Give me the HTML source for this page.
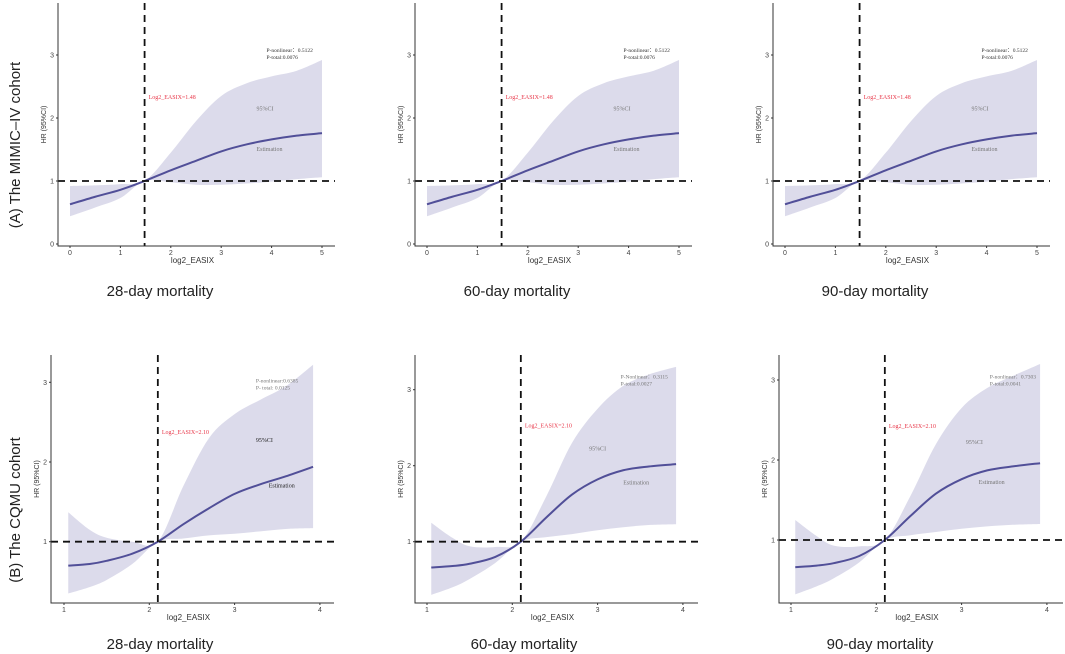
<!DOCTYPE html>
<html><head><meta charset="utf-8"><style>
html,body{margin:0;padding:0;background:#fff;}
svg{display:block;font-family:"Liberation Sans",sans-serif;}
</style></head><body>
<svg id="chart" width="1065" height="654" viewBox="0 0 1065 654" xmlns="http://www.w3.org/2000/svg"></svg>
<script>
// ---- data: top row (MIMIC-IV) ----
const topX     = [0, 0.5, 1, 1.48, 2, 2.5, 3, 3.5, 4, 4.5, 5];
const topEst   = [0.63, 0.75, 0.86, 1.0, 1.17, 1.32, 1.47, 1.58, 1.66, 1.72, 1.76];
const topUpper = [0.92, 0.93, 0.95, 1.0, 1.45, 1.95, 2.35, 2.55, 2.66, 2.75, 2.92];
const topLower = [0.44, 0.58, 0.73, 1.0, 0.98, 0.94, 0.94, 0.96, 0.99, 1.03, 1.06];
const topXTicks = [0, 1, 2, 3, 4, 5];
const topYTicks = [0, 1, 2, 3];
const topCut = 1.48;
// ---- data: bottom row (CQMU) ----
const botX       = [1.05, 1.3, 1.5, 1.8, 2.1, 2.4, 2.7, 3.0, 3.3, 3.6, 3.92];
const b28Est     = [0.70, 0.72, 0.76, 0.85, 1.0, 1.22, 1.42, 1.60, 1.72, 1.82, 1.94];
const b28Upper   = [1.37, 1.15, 1.05, 1.0, 1.0, 1.70, 2.30, 2.60, 2.78, 2.95, 3.22];
const b28Lower   = [0.35, 0.43, 0.52, 0.72, 1.0, 1.04, 1.08, 1.10, 1.13, 1.16, 1.17];
const b60Est     = [0.66, 0.68, 0.71, 0.80, 1.0, 1.32, 1.62, 1.82, 1.94, 1.99, 2.02];
const b60Upper   = [1.25, 1.05, 0.94, 0.93, 1.0, 1.60, 2.30, 2.75, 3.05, 3.20, 3.30];
const b60Lower   = [0.30, 0.40, 0.51, 0.72, 1.0, 1.06, 1.10, 1.15, 1.19, 1.22, 1.23];
const b90Est     = [0.66, 0.68, 0.71, 0.80, 1.0, 1.30, 1.58, 1.76, 1.87, 1.92, 1.96];
const b90Upper   = [1.25, 1.05, 0.93, 0.92, 1.0, 1.55, 2.20, 2.65, 2.90, 3.05, 3.20];
const b90Lower   = [0.32, 0.42, 0.52, 0.72, 1.0, 1.06, 1.10, 1.14, 1.17, 1.19, 1.20];
const botXTicks = [1, 2, 3, 4];
const botYTicks = [1, 2, 3];
const botCut = 2.10;

const NS = "http://www.w3.org/2000/svg";
const svg = document.getElementById('chart');
function mk(tag, attrs, parent){const e=document.createElementNS(NS,tag);for(const k in attrs)e.setAttribute(k,attrs[k]);(parent||svg).appendChild(e);return e;}
function txt(s, attrs, parent){const e=mk('text',attrs,parent);e.textContent=s;return e;}

const panels = [
 {id:'a28',X:topX,E:topEst,U:topUpper,L:topLower,xt:topXTicks,yt:topYTicks,cut:topCut,left:58,right:335,top:3,bottom:246,xv0:0,xp0:70,xs:50.4,yv0:0,yp0:244,ys:63,
  p1:'P-nonlinear：0.5122',p2:'P-total:0.0076',px:3.9,py:3.05,cutY:2.3,ciX:3.7,ciY:2.12,esX:3.7,esY:1.48,title:'28-day mortality',tx:160,ty:296,pcol:'#333',cicol:'#777'},
 {id:'a60',X:topX,E:topEst,U:topUpper,L:topLower,xt:topXTicks,yt:topYTicks,cut:topCut,left:415,right:692,top:3,bottom:246,xv0:0,xp0:427,xs:50.4,yv0:0,yp0:244,ys:63,
  p1:'P-nonlinear：0.5122',p2:'P-total:0.0076',px:3.9,py:3.05,cutY:2.3,ciX:3.7,ciY:2.12,esX:3.7,esY:1.48,title:'60-day mortality',tx:517,ty:296,pcol:'#333',cicol:'#777'},
 {id:'a90',X:topX,E:topEst,U:topUpper,L:topLower,xt:topXTicks,yt:topYTicks,cut:topCut,left:773,right:1050,top:3,bottom:246,xv0:0,xp0:785,xs:50.4,yv0:0,yp0:244,ys:63,
  p1:'P-nonlinear：0.5122',p2:'P-total:0.0076',px:3.9,py:3.05,cutY:2.3,ciX:3.7,ciY:2.12,esX:3.7,esY:1.48,title:'90-day mortality',tx:875,ty:296,pcol:'#333',cicol:'#777'},
 {id:'b28',X:botX,E:b28Est,U:b28Upper,L:b28Lower,xt:botXTicks,yt:botYTicks,cut:botCut,left:51,right:334,top:355,bottom:603,xv0:1,xp0:64,xs:85.3,yv0:1,yp0:541.7,ys:79.7,
  p1:'P-nonlinear:0.6385',p2:'P- total: 0.0125',px:3.25,py:3.0,cutY:2.35,ciX:3.25,ciY:2.25,esX:3.4,esY:1.68,title:'28-day mortality',tx:160,ty:649,pcol:'#777',cicol:'#222'},
 {id:'b60',X:botX,E:b60Est,U:b60Upper,L:b60Lower,xt:botXTicks,yt:botYTicks,cut:botCut,left:415,right:698,top:355,bottom:603,xv0:1,xp0:427,xs:85.3,yv0:1,yp0:541.7,ys:76,
  p1:'P-Nonlinear：0.3115',p2:'P-total:0.0027',px:3.27,py:3.15,cutY:2.5,ciX:2.9,ciY:2.2,esX:3.3,esY:1.75,title:'60-day mortality',tx:524,ty:649,pcol:'#777',cicol:'#777'},
 {id:'b90',X:botX,E:b90Est,U:b90Upper,L:b90Lower,xt:botXTicks,yt:botYTicks,cut:botCut,left:779,right:1063,top:355,bottom:603,xv0:1,xp0:791,xs:85.3,yv0:1,yp0:540,ys:80,
  p1:'P-nonlinear：0.7303',p2:'P-total:0.0041',px:3.33,py:3.02,cutY:2.4,ciX:3.05,ciY:2.2,esX:3.2,esY:1.7,title:'90-day mortality',tx:880,ty:649,pcol:'#777',cicol:'#777'}
];

function smooth(pts){
  let d='M'+pts[0][0]+','+pts[0][1];
  for(let i=0;i<pts.length-1;i++){
    const p0=pts[Math.max(0,i-1)],p1=pts[i],p2=pts[i+1],p3=pts[Math.min(pts.length-1,i+2)];
    const c1x=p1[0]+(p2[0]-p0[0])/6,c1y=p1[1]+(p2[1]-p0[1])/6;
    const c2x=p2[0]-(p3[0]-p1[0])/6,c2y=p2[1]-(p3[1]-p1[1])/6;
    d+=' C'+c1x+','+c1y+' '+c2x+','+c2y+' '+p2[0]+','+p2[1];
  }
  return d;
}

panels.forEach(p=>{
  const xs=v=>p.xp0+(v-p.xv0)*p.xs;
  const ys=v=>p.yp0-(v-p.yv0)*p.ys;
  const g=mk('g',{});
  
  
  const up=p.X.map((x,i)=>[xs(x),ys(p.U[i])]);
  const lo=p.X.map((x,i)=>[xs(x),ys(p.L[i])]).reverse();
  let d=smooth(up)+' L'+lo[0][0]+','+lo[0][1]+smooth(lo).replace(/^M[^C]*/,' ')+' Z';
  const band=mk('path',{d:d,fill:'#dcdbeb',stroke:'none'},g);
  
  
  const est=mk('path',{d:smooth(p.X.map((x,i)=>[xs(x),ys(p.E[i])])),fill:'none',stroke:'#514f98','stroke-width':2},g);
  
  
  const hl=mk('line',{x1:p.left,x2:p.right,y1:ys(1),y2:ys(1),stroke:'#111','stroke-width':1.8,'stroke-dasharray':'7,5'},g);
  
  
  const vl=mk('line',{x1:xs(p.cut),x2:xs(p.cut),y1:p.top,y2:p.bottom,stroke:'#111','stroke-width':1.8,'stroke-dasharray':'7,5'},g);
  
  
  const ax=mk('path',{d:'M'+p.left+','+p.top+' L'+p.left+','+p.bottom+' L'+p.right+','+p.bottom,fill:'none',stroke:'#333','stroke-width':1},g);
  
  
  p.xt.forEach(t=>{
    mk('line',{x1:xs(t),x2:xs(t),y1:p.bottom,y2:p.bottom+2,stroke:'#333'},g);
    const l=txt(String(t),{x:xs(t),y:p.bottom+9,'font-size':7,fill:'#444','text-anchor':'middle'},g);
    
    
  });
  p.yt.forEach(t=>{
    mk('line',{x1:p.left-2,x2:p.left,y1:ys(t),y2:ys(t),stroke:'#333'},g);
    const l=txt(String(t),{x:p.left-4,y:ys(t)+2.5,'font-size':7,fill:'#444','text-anchor':'end'},g);
    
    
  });
  const xl=txt('log2_EASIX',{x:(p.left+p.right)/2-4,y:p.bottom+17,'font-size':8,fill:'#333','text-anchor':'middle'},g);
  
  
  const ymid=(p.top+p.bottom)/2;
  const yl=txt('HR (95%CI)',{x:p.left-12,y:ymid,'font-size':7,fill:'#333','text-anchor':'middle',transform:'rotate(-90 '+(p.left-12)+' '+ymid+')'},g);
  
  
  const a1=txt(p.p1,{x:xs(p.px),y:ys(p.py),'font-size':5.5,fill:p.pcol,'font-family':'Liberation Serif,serif'},g);
  
  
  const a2=txt(p.p2,{x:xs(p.px),y:ys(p.py)+7,'font-size':5.5,fill:p.pcol,'font-family':'Liberation Serif,serif'},g);
  
  
  const c=txt('Log2_EASIX='+(p.cut===2.1?'2.10':'1.48'),{x:xs(p.cut)+4,y:ys(p.cutY),'font-size':6,fill:'#e8384a','font-family':'Liberation Serif,serif'},g);
  
  
  const ci=txt('95%CI',{x:xs(p.ciX),y:ys(p.ciY),'font-size':6,fill:p.cicol,'font-family':'Liberation Serif,serif'},g);
  
  
  const es=txt('Estimation',{x:xs(p.esX),y:ys(p.esY),'font-size':6,fill:p.cicol,'font-family':'Liberation Serif,serif'},g);
  
  
  const tt=txt(p.title,{x:p.tx,y:p.ty,'font-size':15,fill:'#222','text-anchor':'middle'},g);
  
  
});

const ra=txt('(A)  The MIMIC–IV cohort',{x:20,y:145,'font-size':15,fill:'#222','text-anchor':'middle',transform:'rotate(-90 20 145)'});


const rb=txt('(B) The CQMU cohort',{x:20,y:510,'font-size':15,fill:'#222','text-anchor':'middle',transform:'rotate(-90 20 510)'});


</script>
</body></html>
